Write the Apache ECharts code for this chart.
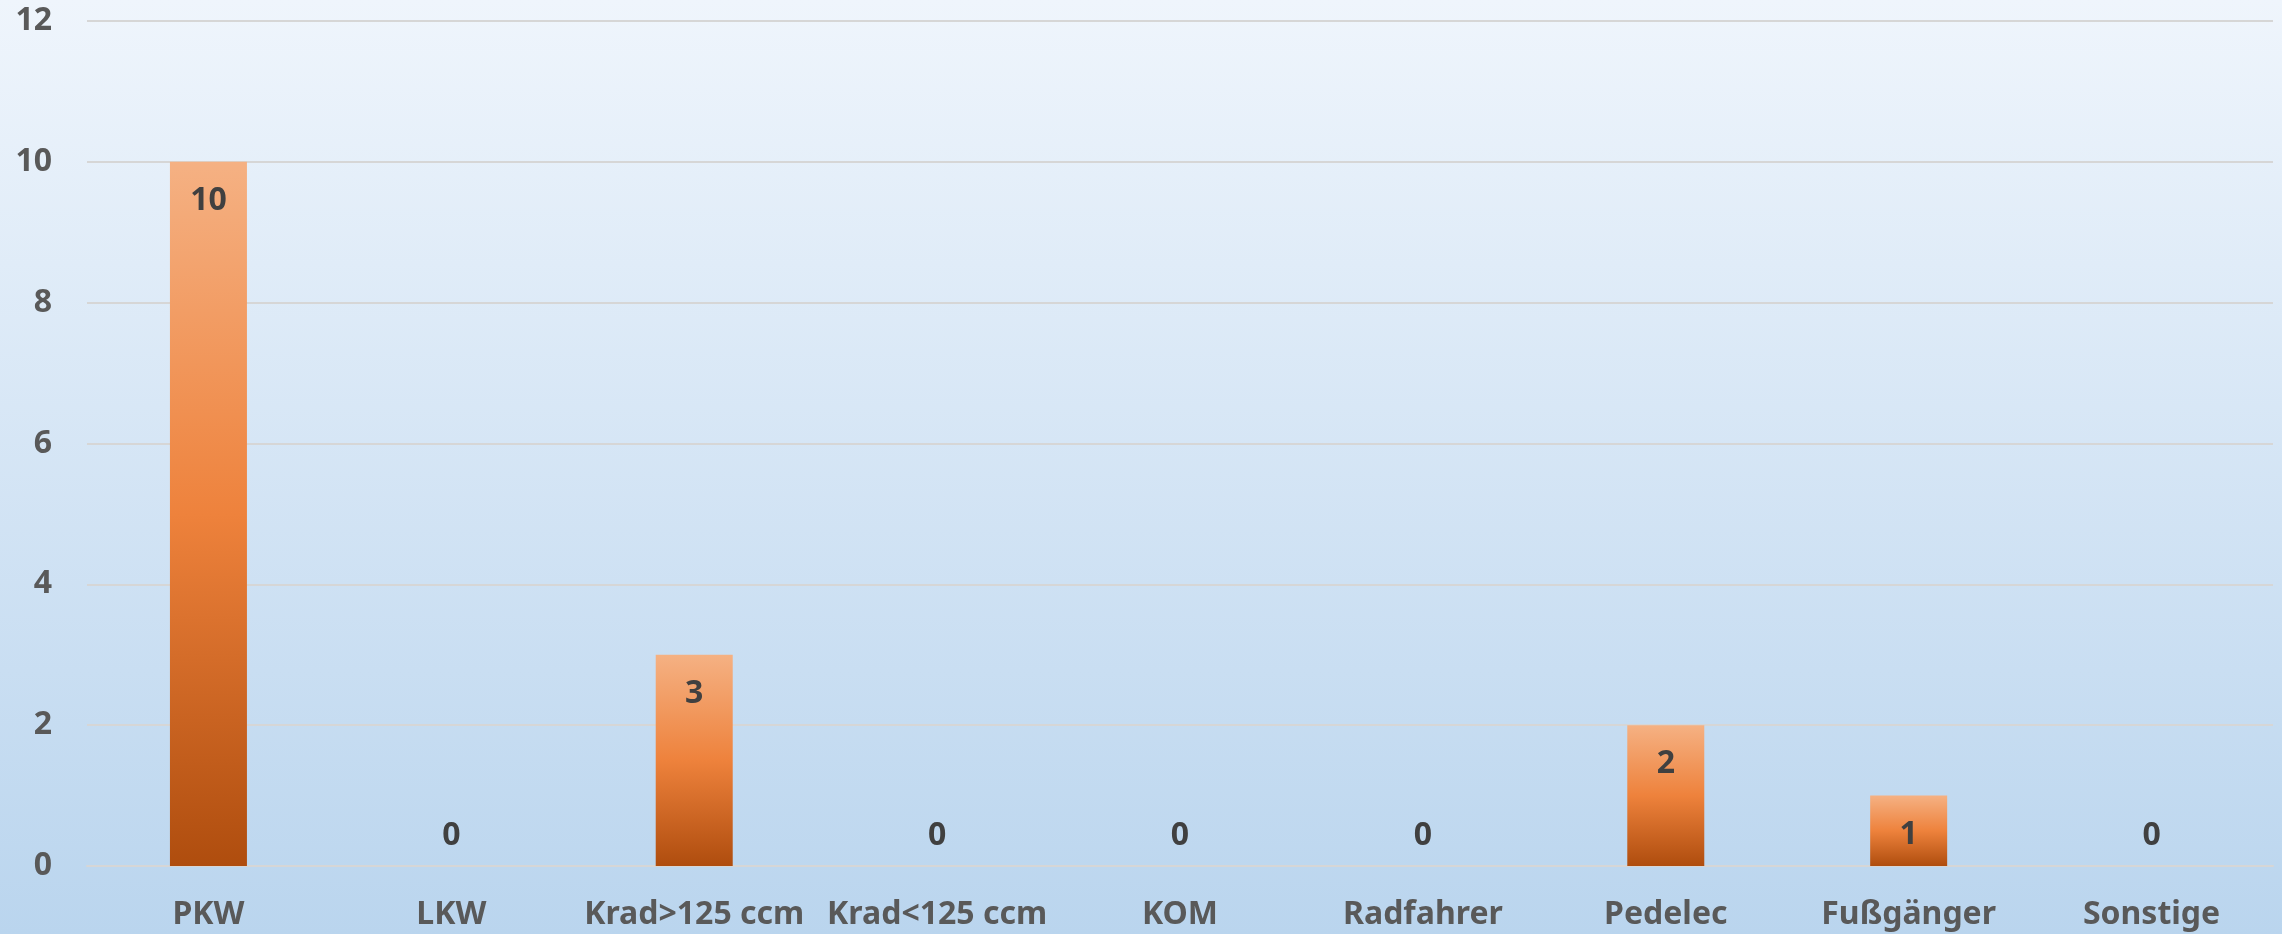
<!DOCTYPE html>
<html>
<head>
<meta charset="utf-8">
<script src="https://cdn.jsdelivr.net/npm/echarts@6/dist/echarts.min.js"></script>
<style>
html,body{margin:0;padding:0;width:2282px;height:934px;overflow:hidden;}
#c{width:2282px;height:934px;}
</style>
</head>
<body>
<div id="c"></div>
<script>
const categories = ['PKW', 'LKW', 'Krad>125 ccm', 'Krad<125 ccm', 'KOM', 'Radfahrer', 'Pedelec', 'Fußgänger', 'Sonstige'];
const values = [10, 0, 3, 0, 0, 0, 2, 1, 0];
const yTicks = [0, 2, 4, 6, 8, 10, 12];

const FONT = "'Noto Sans', 'Open Sans', sans-serif";
const chart = echarts.init(document.getElementById('c'), null, {renderer: 'canvas'});

const barColor = new echarts.graphic.LinearGradient(0, 0, 0, 1, [
  {offset: 0, color: '#F5B183'},
  {offset: 0.5, color: '#EE823C'},
  {offset: 1, color: '#AF4D0E'}
]);

const data = values.map(v => {
  const item = {value: v};
  if (v === 0) {
    item.label = {position: 'top', distance: 14};
  }
  return item;
});

chart.setOption({
  animation: false,
  backgroundColor: new echarts.graphic.LinearGradient(0, 0, 0, 1, [
    {offset: 0, color: '#EFF5FC'},
    {offset: 1, color: '#BAD5EE'}
  ]),
  grid: {left: 87, right: 9, top: 21, bottom: 68, containLabel: false},
  xAxis: {
    type: 'category',
    data: categories,
    axisTick: {show: false},
    axisLine: {show: true, lineStyle: {color: '#D6D6D6', width: 2}},
    axisLabel: {
      color: '#595959', fontSize: 32, fontWeight: 'bold', fontFamily: FONT,
      margin: 33, interval: 0
    }
  },
  yAxis: {
    type: 'value',
    min: yTicks[0],
    max: yTicks[yTicks.length - 1],
    interval: yTicks[1] - yTicks[0],
    axisLine: {show: false},
    axisTick: {show: false},
    splitLine: {lineStyle: {color: '#D6D6D6', width: 2}},
    axisLabel: {
      color: '#595959', fontSize: 32, fontWeight: 'bold', fontFamily: FONT,
      margin: 35
    }
  },
  series: [{
    type: 'bar',
    data: data,
    barWidth: '31.7%',
    itemStyle: {color: barColor},
    label: {
      show: true,
      position: 'insideTop',
      distance: 23,
      color: '#404040',
      fontSize: 32,
      fontWeight: 'bold',
      fontFamily: FONT
    }
  }]
});
</script>
</body>
</html>
